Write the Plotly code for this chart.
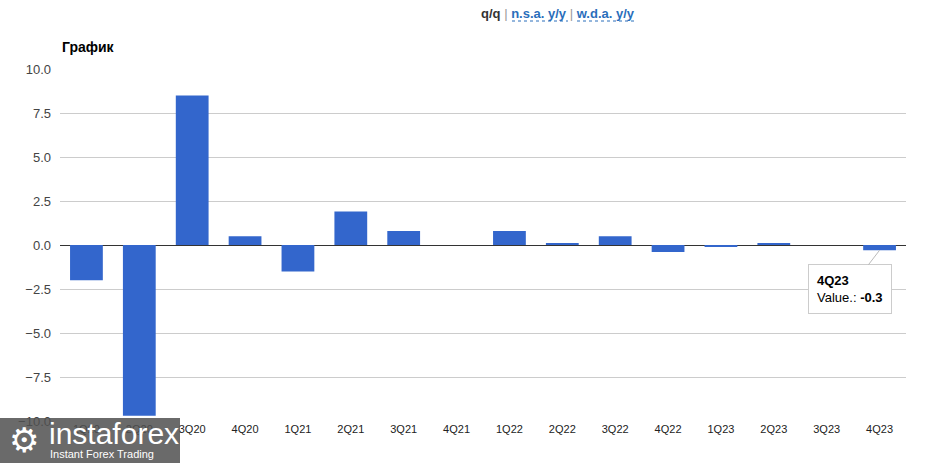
import plotly.graph_objects as go

categories = ["1Q20", "2Q20", "3Q20", "4Q20", "1Q21", "2Q21", "3Q21", "4Q21",
              "1Q22", "2Q22", "3Q22", "4Q22", "1Q23", "2Q23", "3Q23", "4Q23"]
values = [-2.0, -9.7, 8.5, 0.5, -1.5, 1.9, 0.8, 0.0,
          0.8, 0.1, 0.5, -0.4, -0.1, 0.1, 0.0, -0.3]
y_ticks = [-10.0, -7.5, -5.0, -2.5, 0.0, 2.5, 5.0, 7.5, 10.0]

FONT = "Liberation Sans, Arial, sans-serif"

fig = go.Figure()
fig.add_trace(go.Bar(x=categories, y=values, marker_color="#3366cc",
                     marker_line_width=0, hoverinfo="skip"))

fig.update_layout(
    width=932, height=463,
    margin=dict(l=60, r=26, t=69, b=42),
    paper_bgcolor="white", plot_bgcolor="white",
    bargap=0.38, showlegend=False,
    font=dict(family=FONT, color="#222"),
    xaxis=dict(type="category", showgrid=False, showline=False, ticks="",
               tickfont=dict(size=11, color="#222"), ticklen=0),
    yaxis=dict(range=[-10, 10], tickvals=y_ticks, tickformat=".1f",
               showgrid=True, gridcolor="#cccccc", gridwidth=1,
               zeroline=True, zerolinecolor="#333333", zerolinewidth=1,
               tickfont=dict(size=13, color="#444"), ticks="", ticklen=8,
               ticklabelstandoff=8),
)

# Title
fig.add_annotation(text="<b>График</b>", xref="paper", yref="paper",
                   x=0.0, y=1.0, yshift=22, xanchor="left", yanchor="middle",
                   showarrow=False, font=dict(size=14, color="#000"))

# Header links
fig.add_annotation(
    text="<b>q/q</b> <span style='color:#999'>|</span> "
         "<b><span style='color:#2a6ebb'>n.s.a. y/y</span></b> "
         "<span style='color:#999'>|</span> "
         "<b><span style='color:#2a6ebb'>w.d.a. y/y</span></b>",
    xref="paper", yref="paper", x=(558 - 60) / 846, y=1.0, yshift=56,
    xanchor="center", yanchor="middle", showarrow=False,
    font=dict(size=13, color="#333"))
for x0, x1 in [(512, 568), (577, 635)]:
    fig.add_shape(type="line", xref="paper", yref="paper",
                  x0=(x0 - 60) / 846, x1=(x1 - 60) / 846,
                  y0=1 + (69 - 21) / 352, y1=1 + (69 - 21) / 352,
                  line=dict(color="#2a6ebb", width=1, dash="dot"))

# Tooltip
fig.add_annotation(
    x=categories[-1], y=values[-1], text="<b>4Q23</b><br>Value.: <b>-0.3</b>",
    showarrow=True, arrowhead=0, arrowcolor="#bbbbbb", arrowwidth=1,
    ax=-30, ay=39, align="left", bgcolor="white", bordercolor="#cccccc",
    borderwidth=1, borderpad=8, font=dict(size=13, color="#000"))

# Watermark
fig.add_shape(type="rect", xref="paper", yref="paper",
              x0=-60 / 846, x1=(180 - 60) / 846, y0=-42 / 352, y1=(421 - 418) / 352,
              fillcolor="rgba(80,80,80,0.85)", line_width=0, layer="above")
fig.add_annotation(text="⚙", xref="paper", yref="paper", x=(24 - 60) / 846,
                   y=-(440 - 421) / 352, xanchor="center", yanchor="middle",
                   showarrow=False, font=dict(size=34, color="white", family="DejaVu Sans"))
fig.add_annotation(text="instaforex", xref="paper", yref="paper", x=(47 - 60) / 846,
                   y=-(433 - 421) / 352, xanchor="left", yanchor="middle",
                   showarrow=False, font=dict(size=30, color="white", family=FONT))
fig.add_annotation(text="Instant Forex Trading", xref="paper", yref="paper",
                   x=(48 - 60) / 846, y=-(454 - 421) / 352, xanchor="left",
                   yanchor="middle", showarrow=False,
                   font=dict(size=11, color="white", family=FONT))

fig.write_html("out.html")
